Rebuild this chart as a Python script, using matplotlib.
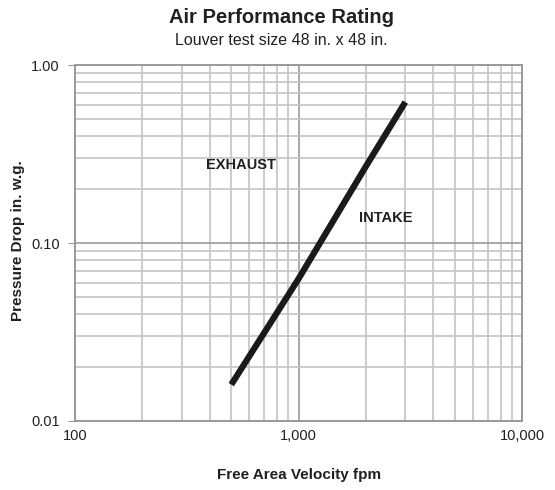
import numpy as np
import matplotlib
matplotlib.use("Agg")
import matplotlib.pyplot as plt
from matplotlib.ticker import FixedLocator, NullFormatter

plt.rcParams['font.family'] = ['Liberation Sans', 'DejaVu Sans']

# values
velocity = [500, 1000, 2000, 3000]        # fpm
pressure = [0.016, 0.063, 0.27, 0.62]     # in. w.g.

x_ticks = [100, 1000, 10000]
x_labels = ["100", "1,000", "10,000"]
y_ticks = [0.01, 0.1, 1.0]
y_labels = ["0.01", "0.10", "1.00"]

TEXT = "#231f20"
GRID = "#c4c4c4"

fig = plt.figure(figsize=(5.55, 4.9), dpi=100)
ax = fig.add_axes([0.135, 0.141, 0.806, 0.726])

ax.set_xscale("log")
ax.set_yscale("log")
ax.set_xlim(100, 10000)
ax.set_ylim(0.01, 1.0)

ax.plot(velocity, pressure, color="#1a1a1a", lw=4.5, solid_capstyle="butt", zorder=3)

ax.xaxis.set_major_locator(FixedLocator(x_ticks))
ax.yaxis.set_major_locator(FixedLocator(y_ticks))
ax.set_xticklabels(x_labels)
ax.set_yticklabels(y_labels)
ax.xaxis.set_minor_locator(FixedLocator([m * d for d in (100, 1000) for m in range(2, 10)]))
ax.yaxis.set_minor_locator(FixedLocator([m * d for d in (0.01, 0.1) for m in range(2, 10)]))
ax.xaxis.set_minor_formatter(NullFormatter())
ax.yaxis.set_minor_formatter(NullFormatter())

ax.grid(True, which="major", color="#9a9a9a", lw=1.2)
ax.grid(True, which="minor", color=GRID, lw=1.2)
ax.tick_params(which="both", length=0, labelsize=10.5, labelcolor=TEXT)
ax.tick_params(axis="y", which="major", length=5, color="#9a9a9a", pad=6)
ax.tick_params(axis="x", which="major", pad=6)
for s in ax.spines.values():
    s.set_color("#9a9a9a")
    s.set_linewidth(1.4)

ax.text(552, 0.274, "EXHAUST", fontsize=10.5, fontweight="bold", color=TEXT,
        ha="center", va="center")
ax.text(2460, 0.138, "INTAKE", fontsize=10.5, fontweight="bold", color=TEXT,
        ha="center", va="center")

# axis titles placed in figure coords so they stay inside the canvas
fig.text(0.538, 0.031, "Free Area Velocity fpm", fontsize=11, fontweight="bold",
         color=TEXT, ha="center", va="center")
fig.text(0.033, 0.508, "Pressure Drop in. w.g.", fontsize=11, fontweight="bold",
         color=TEXT, ha="center", va="center", rotation=90)

fig.text(0.508, 0.965, "Air Performance Rating", fontsize=14.5, fontweight="bold",
         color=TEXT, ha="center", va="center")
fig.text(0.507, 0.918, "Louver test size 48 in. x 48 in.", fontsize=11.5,
         color=TEXT, ha="center", va="center")

fig.savefig("out.png", dpi=100)
